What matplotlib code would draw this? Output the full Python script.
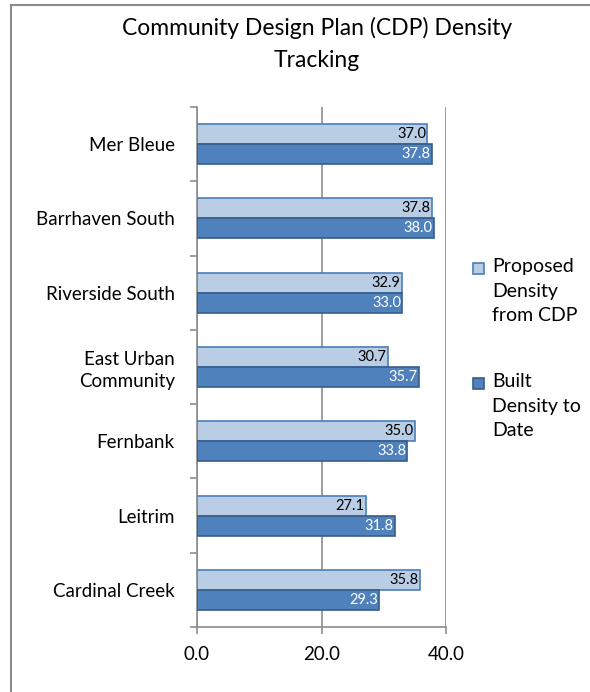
import matplotlib
matplotlib.use("Agg")
import matplotlib.pyplot as plt
import numpy as np
from matplotlib.lines import Line2D
from matplotlib.patches import Rectangle

categories = ["Mer Bleue", "Barrhaven South", "Riverside South", "East Urban\nCommunity",
              "Fernbank", "Leitrim", "Cardinal Creek"]
proposed = [37.0, 37.8, 32.9, 30.7, 35.0, 27.1, 35.8]
built = [37.8, 38.0, 33.0, 35.7, 33.8, 31.8, 29.3]
xticks = [0, 20, 40]
xticklabels = ["0.0", "20.0", "40.0"]
series_names = ["Proposed\nDensity\nfrom CDP", "Built\nDensity to\nDate"]

plt.rcParams['font.family'] = ['Lato', 'DejaVu Sans']

W, H = 590, 692
fig = plt.figure(figsize=(W/100, H/100), dpi=100)
ax = fig.add_axes([197/W, 1-627/H, (446-197)/W, (627-107)/H])

light_fc, light_ec = "#B9CDE5", "#4A7EBB"
dark_fc, dark_ec = "#4F81BD", "#385D8A"
h = 0.27
y = np.arange(len(categories))
ax.barh(y - h/2, proposed, height=h, color=light_fc, edgecolor=light_ec, linewidth=1.2, zorder=3)
ax.barh(y + h/2, built, height=h, color=dark_fc, edgecolor=dark_ec, linewidth=1.2, zorder=3)

for yi, v in zip(y, proposed):
    ax.annotate(f"{v:.1f}", (v, yi - h/2), xytext=(-1, 0), textcoords="offset points",
                ha="right", va="center", fontsize=10.5, color="black", zorder=4)
for yi, v in zip(y, built):
    ax.annotate(f"{v:.1f}", (v, yi + h/2), xytext=(-1, 0), textcoords="offset points",
                ha="right", va="center", fontsize=10.5, color="white", zorder=4)

ax.set_xlim(0, 40)
ax.set_ylim(len(categories) - 0.5, -0.5)
ax.set_xticks(xticks)
ax.set_xticklabels(xticklabels, fontsize=13.5)
ax.set_yticks(y)
ax.set_yticklabels(categories, fontsize=13.5, linespacing=1.3)
ax.set_yticks(np.arange(len(categories) + 1) - 0.5, minor=True)
ax.tick_params(axis="y", which="major", length=0, pad=16)
ax.tick_params(axis="y", which="minor", length=5, color="#8C8C8C", width=1.2)
ax.tick_params(axis="x", length=5, color="#8C8C8C", width=1.2, pad=9)
for s in ["top", "right"]:
    ax.spines[s].set_visible(False)
for s in ["left", "bottom"]:
    ax.spines[s].set_color("#8C8C8C")
    ax.spines[s].set_linewidth(1.2)
ax.grid(axis="x", color="#8C8C8C", linewidth=1.2, zorder=0)
ax.set_axisbelow(True)

fig.text(317/W, 1-44/H, "Community Design Plan (CDP) Density\nTracking", ha="center", va="center",
         fontsize=16.5, linespacing=1.6)

# legend (handles aligned with first text line, as in the reference)
leg_fc = [light_fc, dark_fc]
leg_ec = [light_ec, dark_ec]
leg_top = [258, 373]
for name, fc, ec, top in zip(series_names, leg_fc, leg_ec, leg_top):
    fig.text(492/W, 1-top/H, name, ha="left", va="top", fontsize=14, linespacing=1.55)
    fig.add_artist(Rectangle((473/W, 1-(top+16)/H), 11/W, 11/H, transform=fig.transFigure,
                             facecolor=fc, edgecolor=ec, linewidth=1.2))

# outer border lines (left and top)
fig.add_artist(Line2D([11/W, 11/W], [0, 1-5/H], transform=fig.transFigure, color="#8C8C8C", linewidth=1.5))
fig.add_artist(Line2D([11/W, 1], [1-5/H, 1-5/H], transform=fig.transFigure, color="#8C8C8C", linewidth=1.5))

fig.savefig("out.png", dpi=100)
